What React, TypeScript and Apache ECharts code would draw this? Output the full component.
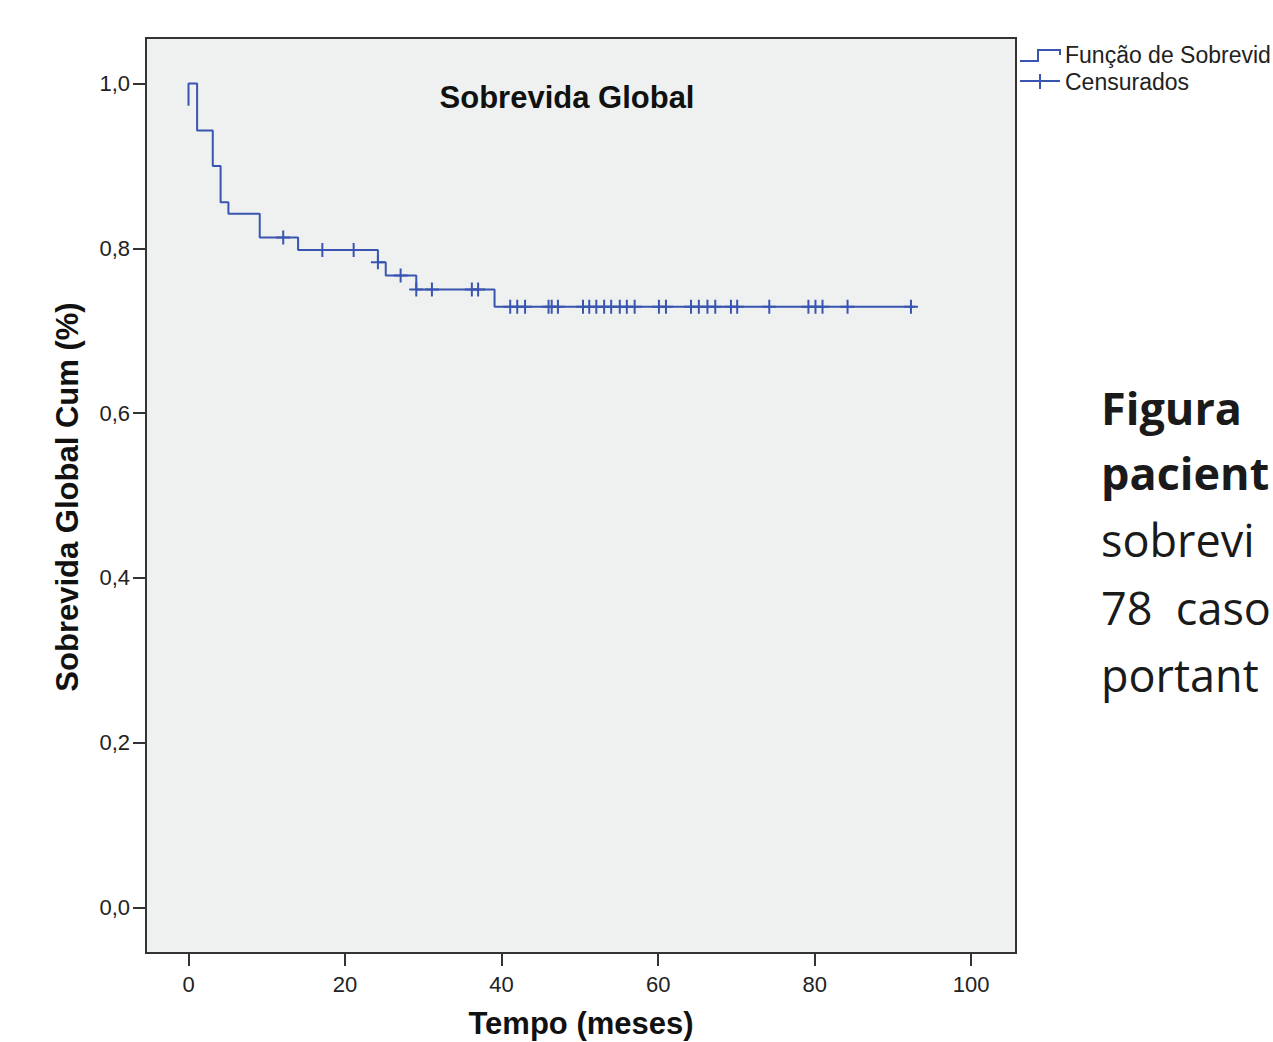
import React, { useEffect, useRef } from "react";
import * as echarts from "echarts";

// Kaplan-Meier step curve: time (months) at which the curve changes, and the level after it
const eventTimes = [0, 0, 1.1, 3.1, 4.1, 5.1, 9.1, 14.0, 24.2, 25.2, 29.1, 39.1, 92.8];
const survivalLevels = [0.973, 1.0, 0.943, 0.9, 0.856, 0.842, 0.813, 0.798, 0.783, 0.767, 0.75, 0.729, 0.729];

// Censored observations (months)
const censorTimes = [
  12.1, 17.1, 21.1, 24.2, 27.1, 29.1, 31.1, 36.2, 37.0,
  41.1, 42.0, 43.0, 46.0, 46.4, 47.2, 50.4, 51.2, 52.1, 53.1, 54.0, 55.1, 56.0, 57.0,
  60.1, 61.0, 64.2, 65.2, 66.3, 67.3, 69.3, 70.1, 74.2, 79.2, 80.1, 81.0, 84.2, 92.3,
];

const xTicks = [0, 20, 40, 60, 80, 100];
const yTicks = [0, 0.2, 0.4, 0.6, 0.8, 1.0];

const chartTitle = "Sobrevida Global";
const xTitle = "Tempo (meses)";
const yTitle = "Sobrevida Global Cum (%)";
const legendNames = ["Função de Sobrevid", "Censurados"];
const sideLines = ["Figura", "pacient", "sobrevi", "78  caso", "portant"];
const sideBold = [true, true, false, false, false];

const BLUE = "#3a55b0";

function levelAt(t: number): number {
  let lvl = survivalLevels[0];
  for (let i = 0; i < eventTimes.length; i++) {
    if (eventTimes[i] <= t) lvl = survivalLevels[i];
  }
  return lvl;
}

export default function App() {
  const ref = useRef<HTMLDivElement>(null);
  useEffect(() => {
    if (!ref.current) return;
    const chart = echarts.init(ref.current, undefined, { renderer: "svg" });
    const labelFont = { fontFamily: "Liberation Sans", fontSize: 22, color: "#222" };
    const sideBaselines = [423, 488, 555, 623, 690];
    chart.setOption({
      animation: false,
      backgroundColor: "#ffffff",
      grid: {
        left: 146,
        top: 38,
        width: 870,
        height: 915,
        show: true,
        backgroundColor: "#eff1f1",
        borderColor: "#333",
        borderWidth: 2,
      },
      xAxis: {
        type: "value",
        min: -5.43,
        max: 105.72,
        axisLine: { show: true, onZero: false, lineStyle: { color: "#333", width: 2 } },
        axisTick: { show: true, customValues: xTicks, length: 13, lineStyle: { color: "#333", width: 2 } },
        axisLabel: { customValues: xTicks, margin: 20, ...labelFont, formatter: (v: number) => String(v) },
        splitLine: { show: false },
      },
      yAxis: {
        type: "value",
        min: -0.0552,
        max: 1.0552,
        axisLine: { show: true, onZero: false, lineStyle: { color: "#333", width: 2 } },
        axisTick: { show: true, customValues: yTicks, length: 13, lineStyle: { color: "#333", width: 2 } },
        axisLabel: {
          customValues: yTicks,
          margin: 16,
          ...labelFont,
          formatter: (v: number) => v.toFixed(1).replace(".", ","),
        },
        splitLine: { show: false },
      },
      series: [
        {
          name: "Função de Sobrevida",
          type: "line",
          step: "end",
          showSymbol: false,
          data: eventTimes.map((t, i) => [t, survivalLevels[i]]),
          lineStyle: { color: BLUE, width: 2 },
          itemStyle: { color: BLUE },
        },
        {
          name: legendNames[1],
          type: "scatter",
          symbol: "path://M6,0H8V6H14V8H8V14H6V8H0V6H6Z",
          symbolSize: 14,
          data: censorTimes.map((t) => [t, levelAt(t)]),
          itemStyle: { color: BLUE, opacity: 1 },
        },
      ],
      graphic: [
        {
          type: "text",
          x: 567,
          y: 97,
          style: {
            text: chartTitle,
            font: "bold 31px 'Liberation Sans'",
            fill: "#111",
            textAlign: "center",
            textVerticalAlign: "middle",
          },
        },
        {
          type: "text",
          x: 581,
          y: 1023,
          style: {
            text: xTitle,
            font: "bold 31px 'Liberation Sans'",
            fill: "#111",
            textAlign: "center",
            textVerticalAlign: "middle",
          },
        },
        {
          type: "text",
          x: 67,
          y: 497,
          rotation: Math.PI / 2,
          style: {
            text: yTitle,
            font: "bold 31px 'Liberation Sans'",
            fill: "#111",
            textAlign: "center",
            textVerticalAlign: "middle",
          },
        },
        {
          type: "polyline",
          shape: { points: [[1020, 61], [1038, 61], [1038, 50], [1060, 50], [1060, 55]] },
          style: { stroke: BLUE, lineWidth: 2, fill: "none" },
        },
        {
          type: "text",
          x: 1065,
          y: 55,
          style: {
            text: legendNames[0],
            font: "23px 'Liberation Sans'",
            fill: "#222",
            textAlign: "left",
            textVerticalAlign: "middle",
          },
        },
        {
          type: "line",
          shape: { x1: 1020, y1: 81, x2: 1060, y2: 81 },
          style: { stroke: BLUE, lineWidth: 2 },
        },
        {
          type: "line",
          shape: { x1: 1040, y1: 74, x2: 1040, y2: 89 },
          style: { stroke: BLUE, lineWidth: 2 },
        },
        {
          type: "text",
          x: 1065,
          y: 82,
          style: {
            text: legendNames[1],
            font: "23px 'Liberation Sans'",
            fill: "#222",
            textAlign: "left",
            textVerticalAlign: "middle",
          },
        },
        ...sideLines.map((s, i) => ({
          type: "text",
          x: 1101,
          y: sideBaselines[i] - 16,
          style: {
            text: s,
            font: `${sideBold[i] ? "bold " : ""}45px 'Open Sans'`,
            fill: "#1a1a1a",
            textAlign: "left",
            textVerticalAlign: "middle",
          },
        })),
      ],
    });
    return () => chart.dispose();
  }, []);
  return (
    <div
      ref={ref}
      style={{ position: "absolute", left: 0, top: 0, width: 1273, height: 1042, overflow: "hidden" }}
    />
  );
}
